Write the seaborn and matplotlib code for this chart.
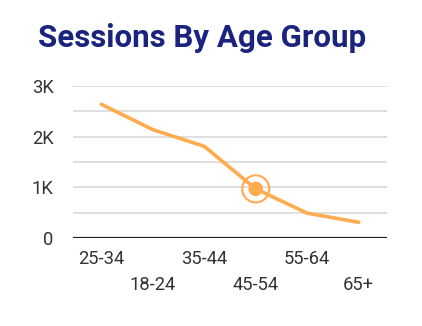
import matplotlib
matplotlib.use("Agg")
import matplotlib.pyplot as plt
import seaborn as sns
import pandas as pd

categories = ["25-34", "18-24", "35-44", "45-54", "55-64", "65+"]
sessions = [2640, 2140, 1810, 970, 490, 310]
highlight_category = "45-54"
ytick_values = [0, 1000, 2000, 3000]
ytick_labels = ["0", "1K", "2K", "3K"]

df = pd.DataFrame({"age": categories, "sessions": sessions})

sns.set_theme(style="white")
plt.rcParams["font.family"] = ["Roboto", "DejaVu Sans"]

LINE = "#FFAB4F"
fig = plt.figure(figsize=(4.22, 3.26), dpi=100)
ax = fig.add_axes([0.173, 0.27, 0.744, 0.466])

sns.lineplot(data=df, x="age", y="sessions", ax=ax, color=LINE, linewidth=2.6,
             sort=False, zorder=3)

hl = df[df["age"] == highlight_category]
sns.scatterplot(data=hl, x="age", y="sessions", ax=ax, s=110, color=LINE,
                edgecolor="none", zorder=4)
sns.scatterplot(data=hl, x="age", y="sessions", ax=ax, s=380, facecolor="none",
                edgecolor=LINE, linewidth=1.5, zorder=4)

ax.set_xlim(-0.55, len(categories) - 0.45)
ax.set_ylim(0, 3000)
for v in range(500, 3001, 500):
    ax.axhline(v, color="#d9d9d9", linewidth=1.2, zorder=1)
ax.axhline(0, color="#222222", linewidth=1.6, zorder=5)

ax.set_yticks(ytick_values)
ax.set_yticklabels(ytick_labels)
ax.set_xticks(range(len(categories)))
ax.set_xticklabels([c if i % 2 == 0 else "\n" + c for i, c in enumerate(categories)],
                   linespacing=1.55)
ax.tick_params(axis="both", length=0, labelsize=13.2, labelcolor="#333333")
ax.tick_params(axis="x", pad=9)
ax.tick_params(axis="y", pad=14)
for lbl in ax.get_yticklabels():
    lbl.set_horizontalalignment("right")
for s in ax.spines.values():
    s.set_visible(False)
ax.set_xlabel("")
ax.set_ylabel("")

fig.text(0.09, 0.856, "Sessions By Age Group", fontsize=22.5, fontweight="bold",
         color="#1A237E", ha="left", va="baseline")

fig.savefig("out.png", dpi=100, facecolor="white")
